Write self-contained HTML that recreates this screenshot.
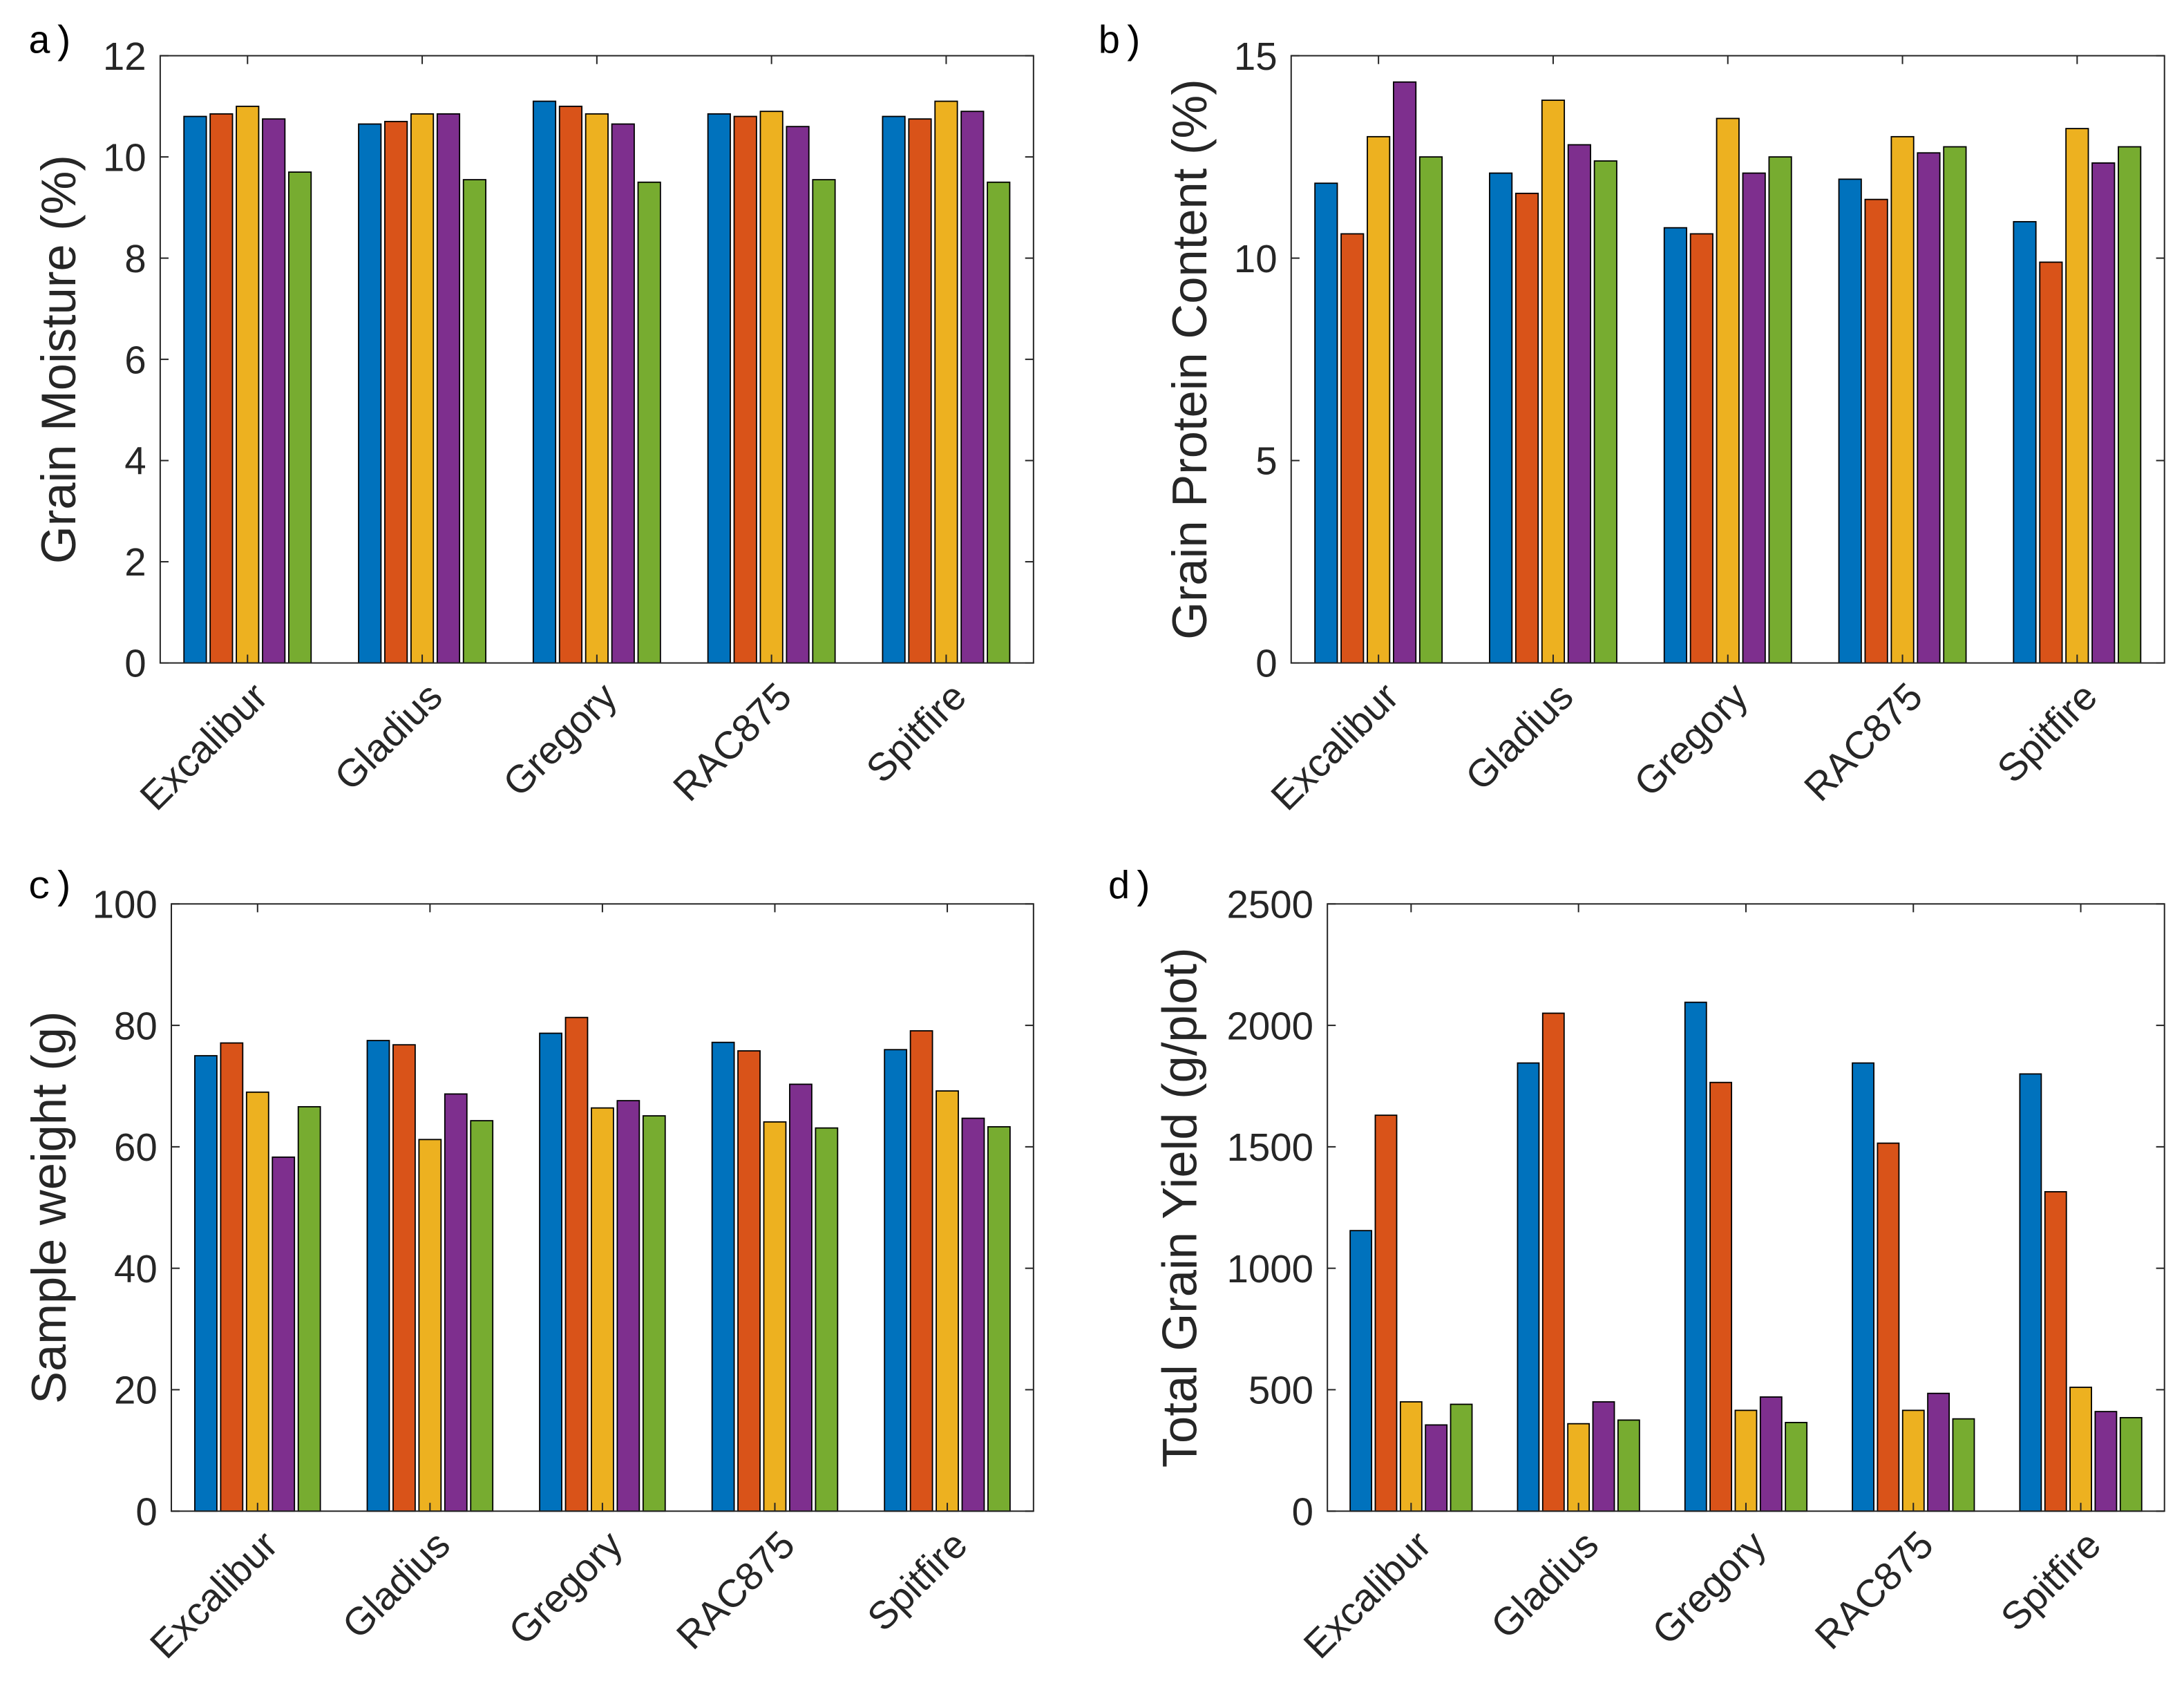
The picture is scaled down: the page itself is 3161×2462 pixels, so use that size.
<!DOCTYPE html>
<html><head><meta charset="utf-8"><style>
html,body{margin:0;padding:0;background:#fff;}
svg{display:block;}
text{font-family:"Liberation Sans",sans-serif;fill:#262626;}
</style></head><body>
<svg id="fig" width="3161" height="2462" viewBox="0 0 1568 1221.3" xmlns="http://www.w3.org/2000/svg"></svg>
<script>
const categories = ["Excalibur","Gladius","Gregory","RAC875","Spitfire"];
const colors = ["#0072BD","#D95319","#EDB120","#7E2F8E","#77AC30"];
// panel a: grain moisture (%)
const moistureValues = [[10.8,10.85,11.0,10.75,9.7],[10.65,10.7,10.85,10.85,9.55],[11.1,11.0,10.85,10.65,9.5],[10.85,10.8,10.9,10.6,9.55],[10.8,10.75,11.1,10.9,9.5]];
const moistureTicks = [0,2,4,6,8,10,12];
// panel b: grain protein (%)
const proteinValues = [[11.85,10.6,13.0,14.35,12.5],[12.1,11.6,13.9,12.8,12.4],[10.75,10.6,13.45,12.1,12.5],[11.95,11.45,13.0,12.6,12.75],[10.9,9.9,13.2,12.35,12.75]];
const proteinTicks = [0,5,10,15];
// panel c: sample weight (g)
const weightValues = [[75,77.1,69,58.3,66.6],[77.5,76.8,61.2,68.7,64.3],[78.7,81.3,66.4,67.6,65.1],[77.2,75.8,64.1,70.3,63.1],[76,79.1,69.2,64.7,63.3]];
const weightTicks = [0,20,40,60,80,100];
// panel d: total grain yield (g/plot)
const yieldValues = [[1155,1630,450,355,440],[1845,2050,360,450,375],[2095,1765,415,470,365],[1845,1515,415,485,380],[1800,1315,510,410,385]];
const yieldTicks = [0,500,1000,1500,2000,2500];

const NS="http://www.w3.org/2000/svg";
const svg=document.getElementById('fig');
function mk(tag,attrs,parent){const e=document.createElementNS(NS,tag);for(const k in attrs)e.setAttribute(k,attrs[k]);(parent||svg).appendChild(e);return e;}

function panel(cfg){
  const g=mk('g',{});
  
  
  const {x0,x1,y0,y1,ticks,values}=cfg;
  const ymax=ticks[ticks.length-1];
  const yS=v=>y1-(v/ymax)*(y1-y0);
  const xS=v=>x0+(v-0.5)/5*(x1-x0);
  const slot=0.15, bw=0.128;
  values.forEach((grp,i)=>{
    grp.forEach((v,j)=>{
      const cu=(i+1)+(j-2)*slot;
      const px=xS(cu);
      const w=bw/5*(x1-x0);
      const r=mk('rect',{x:px-w/2,y:yS(v),width:w,height:yS(0)-yS(v),fill:colors[j],stroke:'#000','stroke-width':0.9},g);
      
      
    });
  });
  const box=mk('rect',{x:x0,y:y0,width:x1-x0,height:y1-y0,fill:'none',stroke:'#262626','stroke-width':1},g);
  
  
  ticks.forEach(t=>{
    const y=yS(t);
    mk('line',{x1:x0,x2:x0+6,y1:y,y2:y,stroke:'#262626','stroke-width':1},g);
    mk('line',{x1:x1,x2:x1-6,y1:y,y2:y,stroke:'#262626','stroke-width':1},g);
    const tx=mk('text',{x:x0-10,y:y+10,'text-anchor':'end','font-size':28},g);
    tx.textContent=t;
    
    
  });
  categories.forEach((c,i)=>{
    const x=xS(i+1);
    mk('line',{x1:x,x2:x,y1:y1,y2:y1-6,stroke:'#262626','stroke-width':1},g);
    mk('line',{x1:x,x2:x,y1:y0,y2:y0+6,stroke:'#262626','stroke-width':1},g);
    const tx=mk('text',{x:x+16,y:y1+26,'text-anchor':'end','font-size':28,transform:`rotate(-45 ${x+16} ${y1+26})`},g);
    tx.textContent=c;
    
    
  });
  const yt=mk('text',{x:cfg.ytx,y:(y0+y1)/2,'text-anchor':'middle','font-size':35,transform:`rotate(-90 ${cfg.ytx} ${(y0+y1)/2})`},g);
  yt.textContent=cfg.ytitle;
  
  
  const pl=mk('text',{x:cfg.lx,y:cfg.ly,'font-size':28,style:'font-family:"Liberation Mono",monospace;fill:#000'},g);
  pl.textContent=cfg.label;
  
  
}
panel({name:'panel-a-moisture',x0:115,x1:742,y0:40,y1:476,ticks:moistureTicks,values:moistureValues,ytitle:'Grain Moisture (%)',ytx:54,label:'a)',lx:20,ly:38});
panel({name:'panel-b-protein',x0:927,x1:1554,y0:40,y1:476,ticks:proteinTicks,values:proteinValues,ytitle:'Grain Protein Content (%)',ytx:866,label:'b)',lx:788,ly:38});
panel({name:'panel-c-weight',x0:123,x1:742,y0:649,y1:1085,ticks:weightTicks,values:weightValues,ytitle:'Sample weight (g)',ytx:47,label:'c)',lx:20,ly:645});
panel({name:'panel-d-yield',x0:953,x1:1554,y0:649,y1:1085,ticks:yieldTicks,values:yieldValues,ytitle:'Total Grain Yield (g/plot)',ytx:859,label:'d)',lx:795,ly:645});
</script>
</body></html>
